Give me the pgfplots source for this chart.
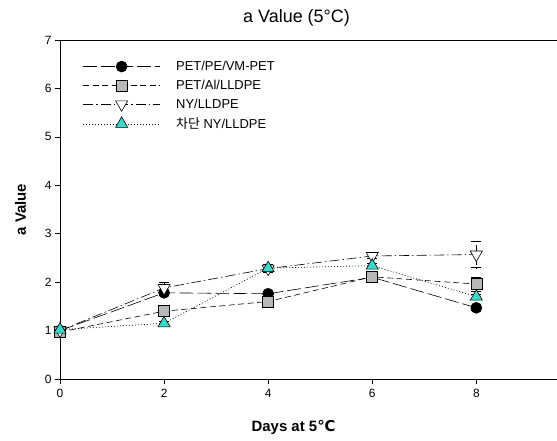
\documentclass[border=0pt]{standalone}
\usepackage{pgfplots}
\pgfplotsset{compat=1.18}
\usepackage{fontspec}
\setmainfont{Liberation Sans}
\newfontfamily\kr{Noto Sans CJK KR}
\newfontfamily\dejavu{DejaVu Sans}
\definecolor{mycyan}{HTML}{3CD6CA}
\definecolor{mygray}{HTML}{B8B8B8}
\begin{document}
\begin{tikzpicture}
\begin{axis}[
  name=ax,
  scale only axis,
  width=497bp, height=339bp,
  xmin=0, xmax=9.55, ymin=0, ymax=7,
  axis x line=box, axis y line=left,
  axis line style={line width=0.8pt, -},
  xtick={0,2,4,6,8}, ytick={0,1,2,3,4,5,6,7},
  tick align=outside, major tick length=5bp,
  tick style={black, line width=0.6pt},
  xtick pos=bottom, ytick pos=left,
  /pgf/number format/assume math mode=true,
  ticklabel style={font=\fontsize{12}{13}\selectfont},
  xticklabel style={yshift=-2bp},
  title={a Value (5\textdegree C)},
  title style={font=\fontsize{18}{20}\selectfont, yshift=4bp, xshift=-12bp},
  xlabel={\textbf{Days at 5{\dejavu\bfseries ℃}}},
  xlabel style={font=\fontsize{15}{17}\selectfont, yshift=-15bp, xshift=-15bp},
  ylabel={\textbf{a Value}},
  ylabel style={font=\fontsize{15}{17}\selectfont, yshift=12bp},
  legend style={at={(0.04,0.95)}, anchor=north west, draw=none, fill=none,
    font=\fontsize{13}{14}\selectfont, row sep=4bp, column sep=14bp},
  legend cell align=left,
  legend image code/.code={\draw[mark repeat=2,mark phase=2] plot coordinates {(0cm,0cm) (1.35cm,0cm) (2.7cm,0cm)};},
  clip=false,
]
\addplot+[black, line width=0.6pt, dash pattern=on 14bp off 4bp, mark=*, mark options={solid, fill=black, mark size=5.5bp},
  error bars/.cd, y dir=both, y explicit, error mark options={rotate=90, mark size=5bp, black, solid}]
  coordinates {(0,1.0) +- (0,0.03) (2,1.78) +- (0,0.05) (4,1.76) +- (0,0.05) (6,2.10) +- (0,0.05) (8,1.47) +- (0,0.05)};
\addlegendentry{PET/PE/VM-PET}
\addplot+[black, line width=0.6pt, dash pattern=on 6bp off 3.5bp, mark=square*, mark options={solid, fill=mygray, mark size=5.5bp},
  error bars/.cd, y dir=both, y explicit, error mark options={rotate=90, mark size=5bp, black, solid}]
  coordinates {(0,0.97) +- (0,0.03) (2,1.40) +- (0,0.05) (4,1.60) +- (0,0.05) (6,2.11) +- (0,0.05) (8,1.96) +- (0,0.14)};
\addlegendentry{PET/Al/LLDPE}
\addplot+[black, line width=0.6pt, dash pattern=on 10bp off 3bp on 1.5bp off 3bp, mark=triangle*, mark options={solid, fill=white, rotate=180, mark size=7bp},
  error bars/.cd, y dir=both, y explicit, error mark options={rotate=90, mark size=5bp, black, solid}]
  coordinates {(0,1.0) +- (0,0.03) (2,1.88) +- (0,0.12) (4,2.28) +- (0,0.06) (6,2.54) +- (0,0.05) (8,2.57) +- (0,0.27)};
\addlegendentry{NY/LLDPE}
\addplot+[black, line width=0.6pt, dash pattern=on 1bp off 2bp, mark=triangle*, mark options={solid, fill=mycyan, mark size=7bp},
  error bars/.cd, y dir=both, y explicit, error mark options={rotate=90, mark size=5bp, black, solid}]
  coordinates {(0,1.02) +- (0,0.03) (2,1.15) +- (0,0.05) (4,2.29) +- (0,0.08) (6,2.34) +- (0,0.05) (8,1.70) +- (0,0.06)};
\addlegendentry{{\kr 차단} NY/LLDPE}
\end{axis}
\pgfresetboundingbox
\path (ax.south west) ++(-60bp,-62bp) coordinate (bl);
\path (ax.north east) ++(0bp,40bp) coordinate (tr);
\useasboundingbox (bl) rectangle (tr);
\end{tikzpicture}
\end{document}
